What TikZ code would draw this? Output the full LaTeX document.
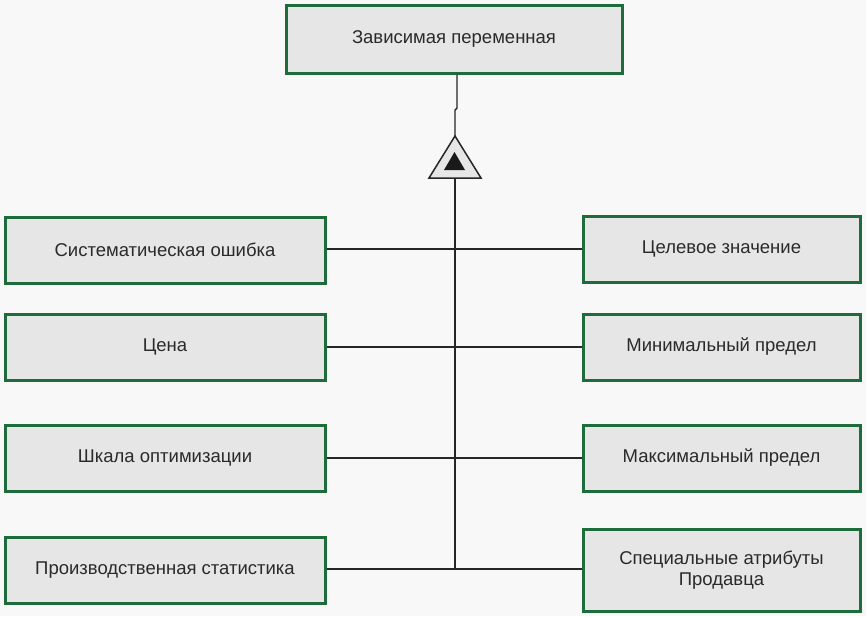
\documentclass[tikz,border=0pt]{standalone}
\usepackage{fontspec}
\setmainfont{Liberation Sans}
\begin{document}
\begin{tikzpicture}[x=1pt,y=-1pt,
  box/.style={draw=boxgreen,line width=3pt,fill=boxgray,inner sep=0pt,align=center,
    font=\fontsize{18.5}{21}\selectfont,text=txt},
  conn/.style={line width=1.4pt,draw=black!85}]
\definecolor{boxgreen}{HTML}{1E6B3C}
\definecolor{boxgray}{HTML}{E6E6E6}
\definecolor{txt}{HTML}{2A2A2A}
\definecolor{bg}{HTML}{F8F8F8}
\fill[bg] (0,0) rectangle (866,616);
\useasboundingbox (0,0) rectangle (866,616);
% boxes
\node[box,minimum width=336pt,minimum height=68pt] (top) at (454,39) {Зависимая переменная};
\node[box,minimum width=320pt,minimum height=66pt] (l1) at (165,250) {Систематическая ошибка};
\node[box,minimum width=320pt,minimum height=66pt] (l2) at (165,347) {Цена};
\node[box,minimum width=320pt,minimum height=66pt] (l3) at (165,458) {Шкала оптимизации};
\node[box,minimum width=320pt,minimum height=66pt] (l4) at (165,570) {Производственная статистика};
\node[box,minimum width=277pt,minimum height=66pt] (r1) at (721.5,249) {Целевое значение};
\node[box,minimum width=277pt,minimum height=66pt] (r2) at (721.5,347) {Минимальный предел};
\node[box,minimum width=277pt,minimum height=66pt] (r3) at (721.5,458) {Максимальный предел};
\node[box,minimum width=277pt,minimum height=82pt] (r4) at (721.5,570) {Специальные атрибуты\\Продавца};
% triangle
\coordinate (apex) at (455,136);
\coordinate (tl) at (429,178);
\coordinate (tr) at (481,178);
\coordinate (base) at (455,178);
\coordinate (jogA) at (457,108);
\coordinate (jogB) at (455,110);
\coordinate (bottom) at (455,569);
\draw[conn] (top.south -| jogA) -- (jogA) -- (jogB) -- (apex);
\draw[conn,fill=boxgray,line width=1.5pt,line join=miter] (apex) -- (tl) -- (tr) -- cycle;
\fill[black!90] (454.5,152) -- (444,170) -- (465,170) -- cycle;
\draw[conn] (base) -- (bottom);
% horizontal connectors
\draw[conn] (l1.east |- r1.west) -- (r1.west);
\draw[conn] (l2.east) -- (r2.west);
\draw[conn] (l3.east) -- (r3.west);
\draw[conn] (l4.east |- bottom) -- (r4.west |- bottom);
\end{tikzpicture}
\end{document}
